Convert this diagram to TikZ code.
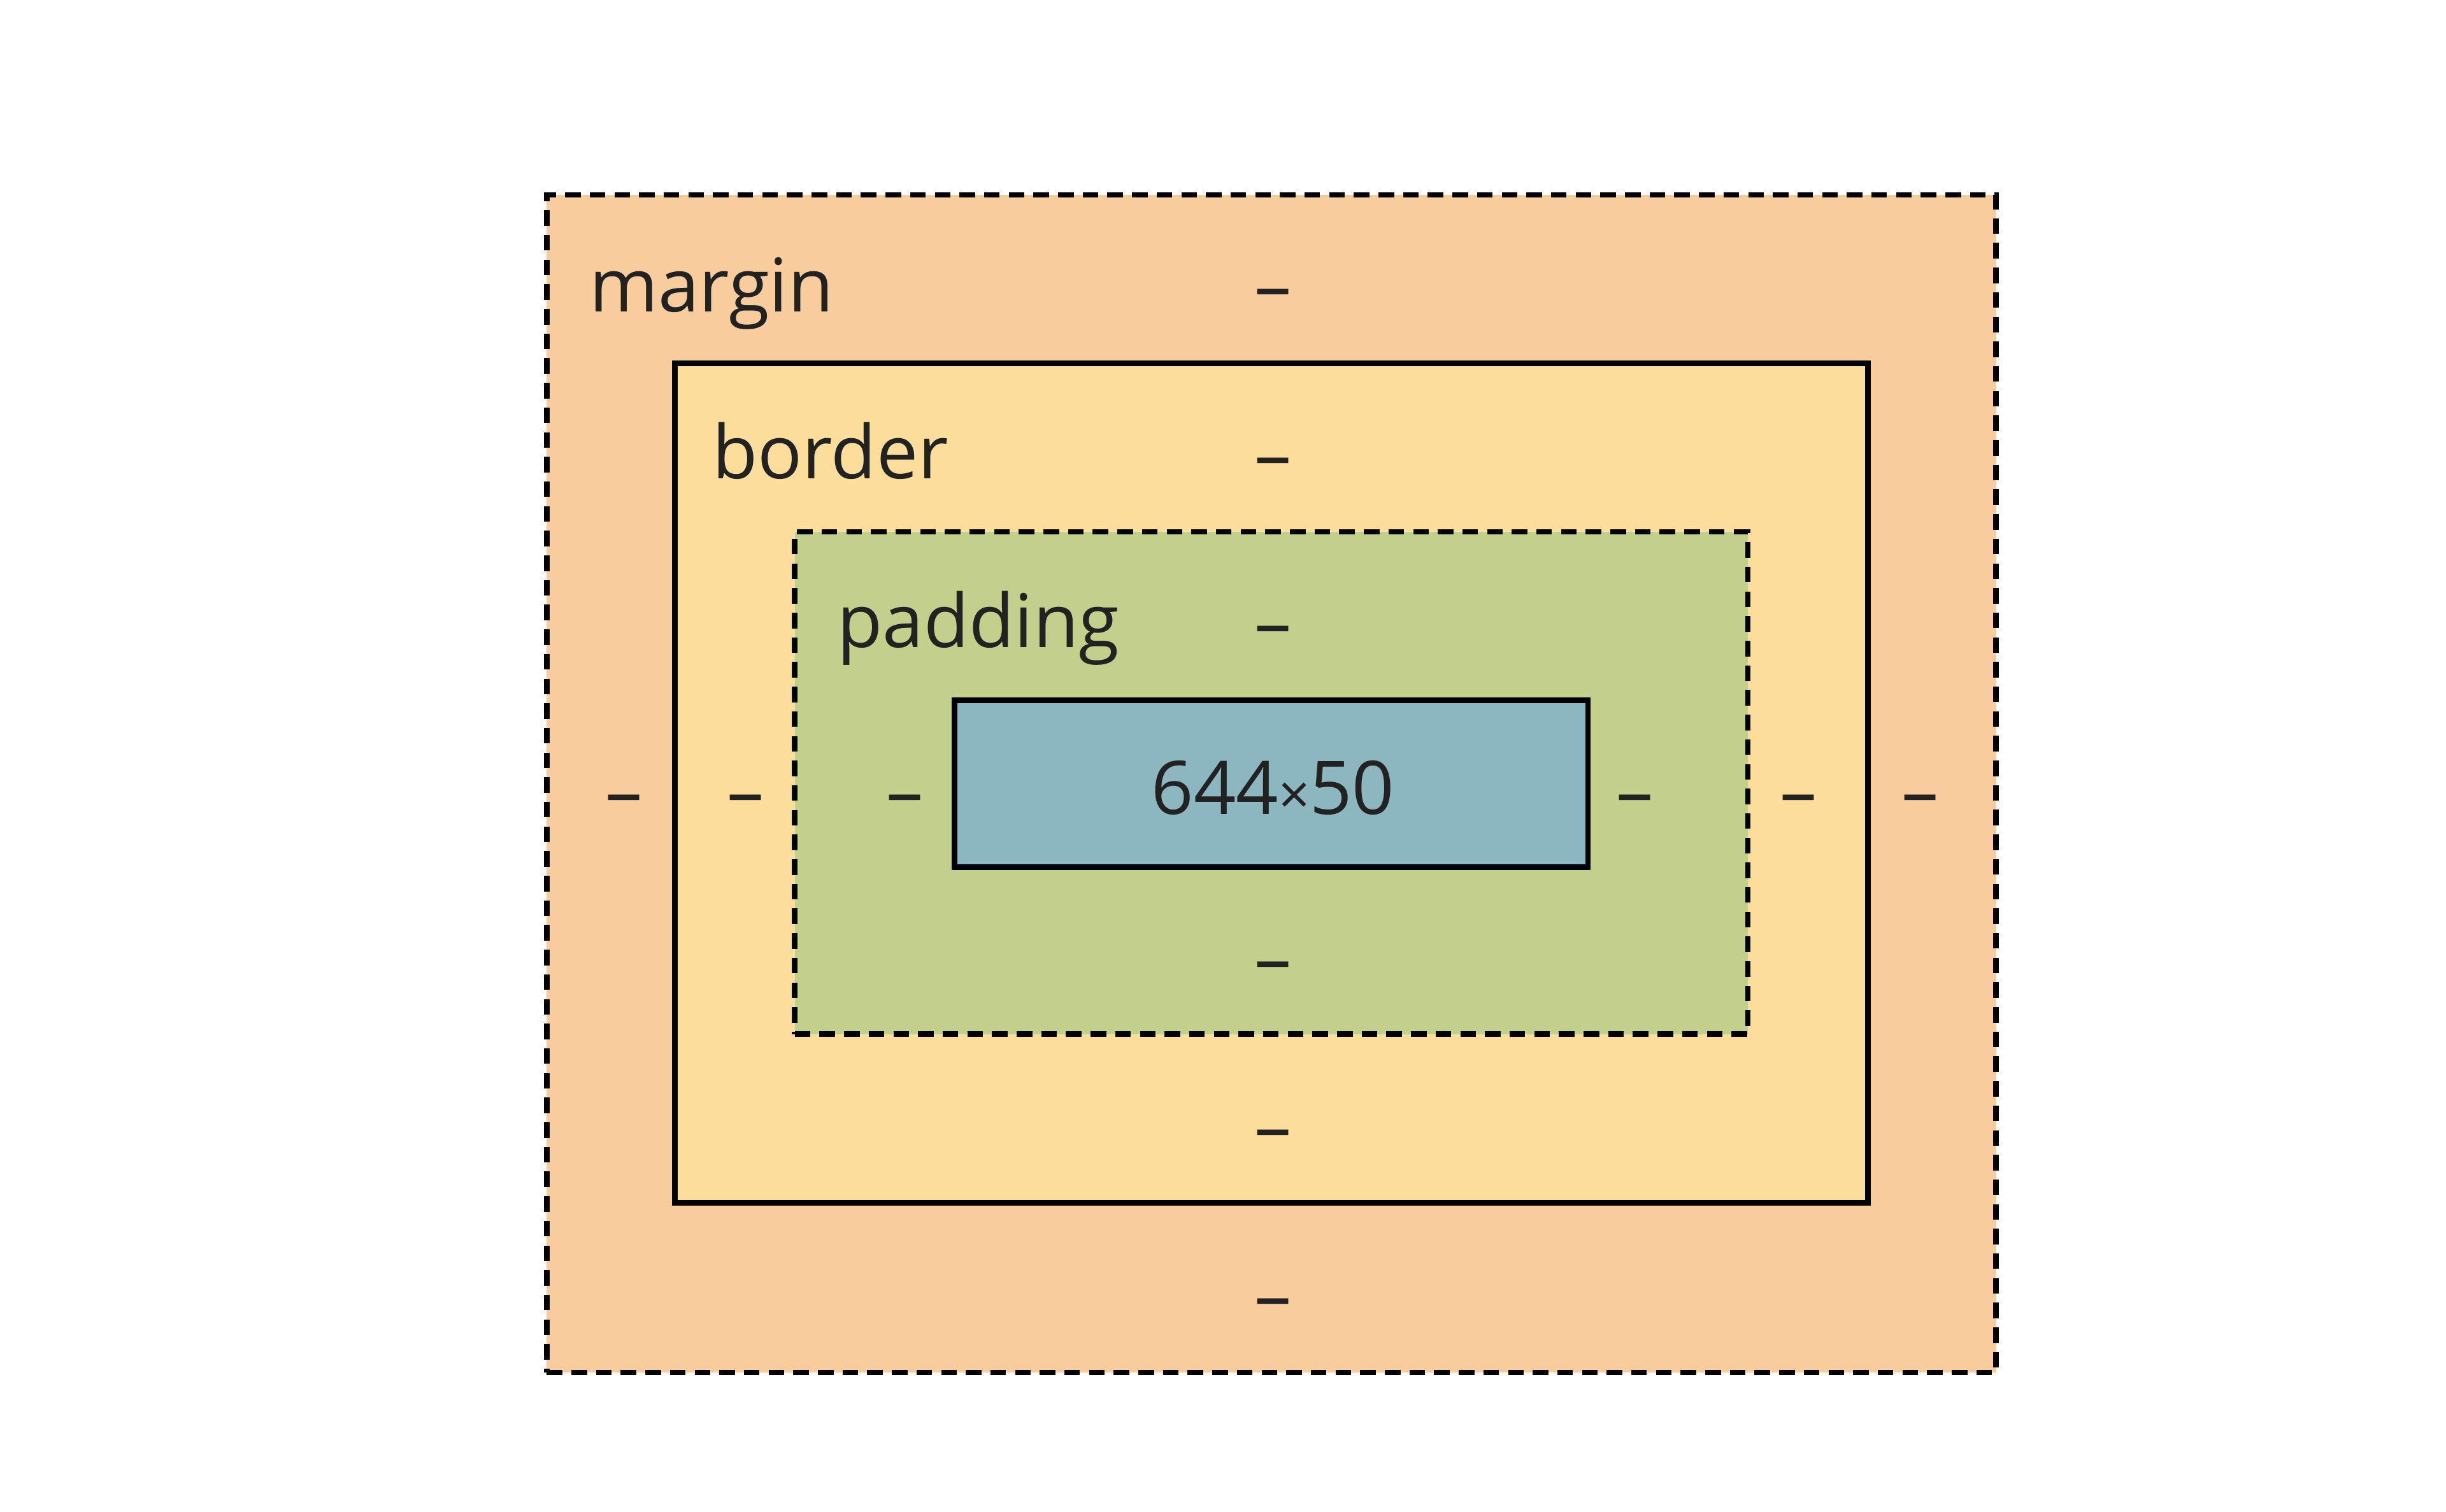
\documentclass[tikz,border=0pt]{standalone}
\usepackage{fontspec}
\setmainfont{Open Sans}
\usepackage{xcolor}
\usepackage{tikz}
\usetikzlibrary{positioning}
\definecolor{marginc}{HTML}{F9CC9D}
\definecolor{borderc}{HTML}{FDDD9B}
\definecolor{paddingc}{HTML}{C3D08B}
\definecolor{contentc}{HTML}{8CB6C0}
\definecolor{txt}{HTML}{222222}
\begin{document}
\begin{tikzpicture}[
  every node/.style={font=\fontsize{13.5}{16}\selectfont, text=txt, inner sep=0pt},
  boxdash/.style={dash pattern=on 0.1cm off 0.058cm},
  marginbox/.style={rectangle, draw=black, line width=1pt, boxdash,
    fill=marginc, minimum width=9.29cm, minimum height=7.55cm},
  borderbox/.style={rectangle, draw=black, line width=1pt,
    fill=borderc, minimum width=7.65cm, minimum height=5.38cm},
  paddingbox/.style={rectangle, draw=black, line width=1pt, boxdash,
    fill=paddingc, minimum width=6.11cm, minimum height=3.22cm},
  contentbox/.style={rectangle, draw=black, line width=1pt,
    fill=contentc, minimum width=4.06cm, minimum height=1.07cm},
  lbl/.style={anchor=base west},
  val/.style={anchor=base}]

\useasboundingbox (0,0) rectangle (15.68,-9.69);

% nested boxes
\node (margin) [marginbox] at (8.15,-5.025) {};
\node (border) [borderbox] at (8.15,-5.02) {};
\node (padding) [paddingbox] at (8.15,-5.02) {};
\node (content) [contentbox] at (8.15,-5.025) {};

% box names
\node (mlbl) [lbl] at (3.77,-2.00) {margin};
\node (blbl) [lbl] at (4.56,-3.07) {border};
\node (plbl) [lbl] at (5.36,-4.15) {padding};

% values
\node (mtop) [val] at (8.16,-2.00) {–};
\node (btop) [val] at (8.16,-3.08) {–};
\node (ptop) [val] at (8.16,-4.16) {–};
\node (pbot) [val] at (8.16,-6.31) {–};
\node (bbot) [val] at (8.16,-7.39) {–};
\node (mbot) [val] at (8.16,-8.47) {–};
\node (mleft) [val] at (4.00,-5.24) {–};
\node (bleft) [val] at (4.78,-5.24) {–};
\node (pleft) [val] at (5.80,-5.24) {–};
\node (pright) [val] at (10.48,-5.24) {–};
\node (bright) [val] at (11.53,-5.24) {–};
\node (mright) [val] at (12.31,-5.24) {–};
\node (size) [val] at (8.16,-5.22) {644{\fontsize{10}{12}\selectfont×}50};

\end{tikzpicture}
\end{document}
